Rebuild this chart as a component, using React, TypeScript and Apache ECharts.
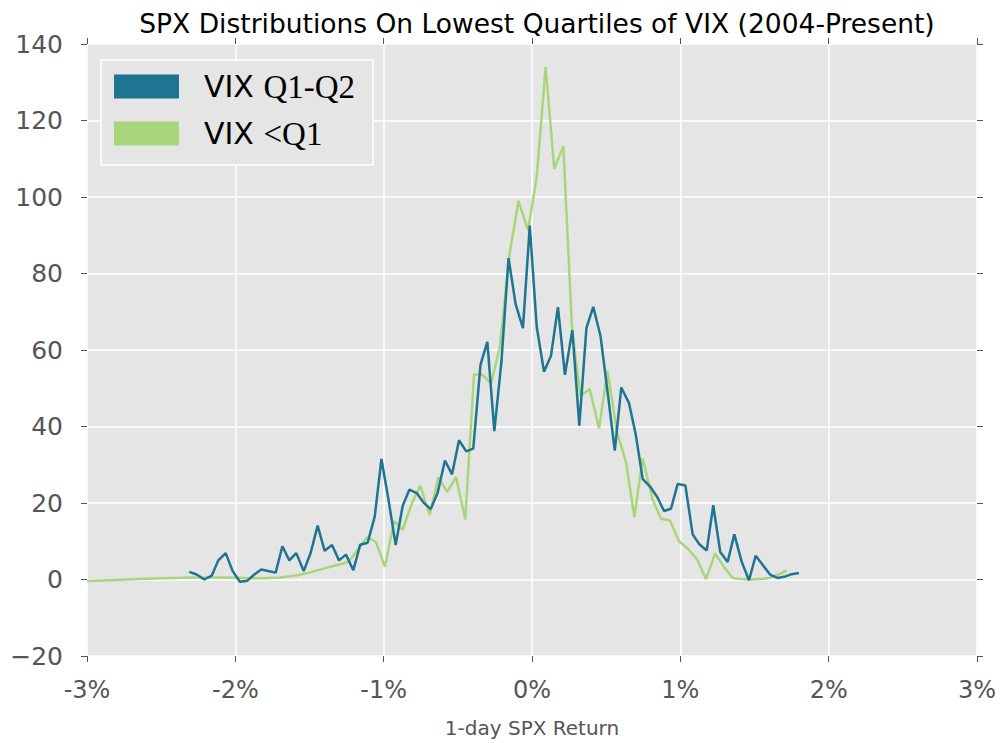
import React, { useEffect, useRef } from "react";
import * as echarts from "echarts";

// VIX Q1-Q2 series: x = 1-day SPX return (%), y = count
const blueX = [
  -2.31, -2.261, -2.209, -2.159, -2.115, -2.065, -2.018, -1.969, -1.919, -1.872,
  -1.825, -1.778, -1.728, -1.683, -1.636, -1.589, -1.539, -1.492, -1.445, -1.398,
  -1.348, -1.301, -1.254, -1.205, -1.158, -1.108, -1.06, -1.015, -0.966, -0.919,
  -0.872, -0.827, -0.777, -0.731, -0.683, -0.636, -0.587, -0.539, -0.492, -0.443,
  -0.396, -0.347, -0.301, -0.254, -0.206, -0.158, -0.11, -0.061, -0.015, 0.032,
  0.081, 0.128, 0.175, 0.222, 0.272, 0.319, 0.367, 0.413, 0.462, 0.51,
  0.558, 0.602, 0.654, 0.699, 0.746, 0.796, 0.845, 0.89, 0.937, 0.982,
  1.034, 1.083, 1.128, 1.178, 1.222, 1.269, 1.319, 1.364, 1.414, 1.463,
  1.508, 1.557, 1.605, 1.654, 1.701, 1.751, 1.8,
];
const blueY = [
  2.0, 1.3, 0.0, 1.0, 5.0, 6.9, 2.2, -0.6, -0.3, 1.3,
  2.6, 2.2, 1.8, 8.7, 5.0, 6.9, 2.2, 7.0, 14.1, 7.5,
  9.0, 5.0, 6.5, 2.4, 9.1, 9.6, 16.5, 31.5, 20.5, 9.0,
  19.2, 23.5, 22.6, 20.1, 18.4, 22.7, 31.1, 27.5, 36.4, 33.5,
  34.2, 56.2, 62.1, 38.8, 57.0, 84.0, 71.9, 65.7, 92.5, 66.0,
  54.3, 58.5, 71.2, 53.5, 65.2, 40.2, 65.8, 71.3, 63.6, 48.9,
  33.7, 50.2, 46.1, 38.0, 26.3, 24.3, 21.5, 17.9, 18.5, 25.0,
  24.6, 11.8, 9.2, 7.6, 19.4, 7.2, 4.6, 11.8, 4.6, -0.2,
  6.2, 3.7, 1.3, 0.4, 0.7, 1.4, 1.7,
];

// VIX <Q1 series
const greenX = [
  -3.0, -2.9, -2.8, -2.7, -2.6, -2.5, -2.4, -2.3, -2.2, -2.1,
  -2.0, -1.9, -1.8, -1.7, -1.6, -1.5, -1.4, -1.3,
  -1.238, -1.11, -1.052, -0.991, -0.93, -0.872, -0.811, -0.753, -0.69, -0.632,
  -0.571, -0.512, -0.45, -0.391, -0.337, -0.275, -0.216, -0.153, -0.091, -0.027,
  0.032, 0.092, 0.15, 0.211, 0.27, 0.327, 0.389, 0.452, 0.509, 0.573,
  0.634, 0.69, 0.746, 0.811, 0.87, 0.93, 0.991, 1.054, 1.114, 1.173,
  1.234, 1.294, 1.353, 1.414, 1.474, 1.537, 1.6, 1.661, 1.717,
];
const greenY = [
  -0.4, -0.25, -0.1, 0.05, 0.2, 0.3, 0.4, 0.5, 0.5, 0.5,
  0.45, 0.3, 0.3, 0.5, 1.0, 1.8, 2.9, 3.9,
  4.6, 11.1, 9.8, 3.3, 15.3, 13.0, 19.8, 24.5, 16.8, 26.7,
  22.9, 26.8, 15.7, 53.6, 53.6, 51.3, 61.0, 84.7, 99.0, 91.3,
  105.3, 134.0, 107.3, 113.3, 65.4, 48.0, 49.8, 39.5, 54.5, 38.5,
  30.6, 16.3, 31.7, 21.1, 15.9, 15.4, 10.0, 7.9, 5.2, 0.1,
  6.8, 3.3, 0.4, 0.1, 0.0, 0.1, 0.4, 1.3, 2.4,
];

const seriesNames = ["VIX Q1-Q2", "VIX <Q1"];
const legendLabels = ["{s|VIX }{m|Q1-Q2}", "{s|VIX }{m|<Q1}"];
const titleText = "SPX Distributions On Lowest Quartiles of VIX (2004-Present)";
const xAxisTitle = "1-day SPX Return";

const BLUE = "#1d7591";
const GREEN = "#a9d67b";
const TICK = "#555555";

export default function App() {
  const ref = useRef<HTMLDivElement>(null);
  useEffect(() => {
    if (!ref.current) return;
    const chart = echarts.init(ref.current, null, { renderer: "svg" });
    const blueData = blueX.map((x, i) => [x, blueY[i]]);
    const greenData = greenX.map((x, i) => [x, greenY[i]]);
    const xCommon = {
      type: "value",
      min: -3,
      max: 3,
      interval: 1,
      axisLine: { show: false, onZero: false },
      axisTick: { show: true, length: 6, lineStyle: { color: TICK, width: 1 } },
    };
    const yCommon = {
      type: "value",
      min: -20,
      max: 140,
      interval: 20,
      axisLine: { show: false, onZero: false },
      axisTick: { show: true, length: 6, lineStyle: { color: TICK, width: 1 } },
    };
    chart.setOption({
      animation: false,
      backgroundColor: "#ffffff",
      title: {
        text: titleText,
        left: 532,
        textAlign: "center",
        top: 5,
        textStyle: {
          fontFamily: "DejaVu Sans",
          fontSize: 26.5,
          fontWeight: "normal",
          color: "#000000",
        },
      },
      grid: { left: 87, right: 26, top: 44, bottom: 85, backgroundColor: "#e5e5e5", show: true, borderWidth: 0 },
      legend: {
        data: seriesNames,
        left: 101,
        top: 60,
        orient: "vertical",
        icon: "rect",
        itemWidth: 65,
        itemHeight: 24,
        itemGap: 14,
        padding: [10, 18, 15, 13],
        backgroundColor: "#e5e5e5",
        borderColor: "#ffffff",
        borderWidth: 1.5,
        formatter: (name: string) => legendLabels[seriesNames.indexOf(name)],
        textStyle: {
          padding: [0, 0, 0, 20],
          rich: {
            s: { fontFamily: "DejaVu Sans", fontSize: 30, color: "#000", lineHeight: 32 },
            m: { fontFamily: "Liberation Serif", fontSize: 33, color: "#000", lineHeight: 32 },
          },
        },
      },
      xAxis: [
        {
          ...xCommon,
          position: "bottom",
          name: xAxisTitle,
          nameLocation: "middle",
          nameGap: 62,
          nameTextStyle: { fontFamily: "DejaVu Sans", fontSize: 20, color: TICK },
          splitLine: { show: true, lineStyle: { color: "#ffffff", width: 1.5 } },
          axisLabel: {
            margin: 22,
            fontFamily: "DejaVu Sans",
            fontSize: 24,
            color: TICK,
            formatter: (v: number) => `${v}%`,
          },
        },
        {
          ...xCommon,
          position: "top",
          splitLine: { show: false },
          axisLabel: { show: false },
        },
      ],
      yAxis: [
        {
          ...yCommon,
          position: "left",
          splitLine: { show: true, lineStyle: { color: "#ffffff", width: 1.5 } },
          axisLabel: {
            margin: 24,
            fontFamily: "DejaVu Sans",
            fontSize: 25,
            color: TICK,
            formatter: (v: number) => String(v).replace("-", "\u2212"),
          },
        },
        {
          ...yCommon,
          position: "right",
          splitLine: { show: false },
          axisLabel: { show: false },
        },
      ],
      series: [
        {
          name: "VIX <Q1",
          type: "line",
          data: greenData,
          showSymbol: false,
          symbol: "none",
          color: GREEN,
          itemStyle: { color: GREEN },
          lineStyle: { color: GREEN, width: 2.5 },
          z: 2,
        },
        {
          name: "VIX Q1-Q2",
          type: "line",
          data: blueData,
          showSymbol: false,
          symbol: "none",
          color: BLUE,
          itemStyle: { color: BLUE },
          lineStyle: { color: BLUE, width: 2.5 },
          z: 3,
        },
      ],
    });
    return () => chart.dispose();
  }, []);
  return (
    <div
      ref={ref}
      style={{ position: "fixed", left: 0, top: 0, width: 1003, height: 743 }}
    />
  );
}
